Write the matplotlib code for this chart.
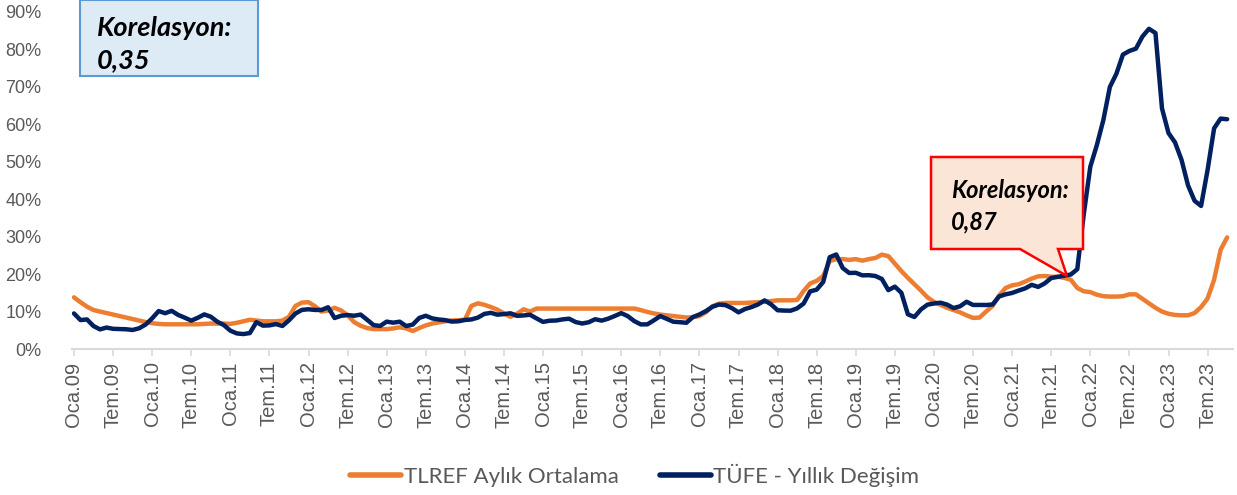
import numpy as np
import matplotlib.pyplot as plt
from matplotlib.patches import Rectangle, Polygon

# monthly values, Oca.09 .. Eki.23
tufe = [9.50, 7.73, 7.89, 6.13, 5.24, 5.73, 5.39, 5.33, 5.27, 5.08, 5.53, 6.53,
        8.19, 10.13, 9.56, 10.19, 9.10, 8.37, 7.58, 8.33, 9.24, 8.62, 7.29, 6.40,
        4.90, 4.16, 3.99, 4.26, 7.17, 6.24, 6.31, 6.65, 6.15, 7.66, 9.48, 10.45,
        10.61, 10.43, 10.43, 11.14, 8.28, 8.87, 9.07, 8.88, 9.19, 7.80, 6.37, 6.16,
        7.31, 7.03, 7.29, 6.13, 6.51, 8.30, 8.88, 8.17, 7.88, 7.71, 7.32, 7.40,
        7.75, 7.89, 8.39, 9.38, 9.66, 9.16, 9.32, 9.54, 8.86, 8.96, 9.15, 8.17,
        7.24, 7.55, 7.61, 7.91, 8.09, 7.20, 6.81, 7.14, 7.95, 7.58, 8.10, 8.81,
        9.58, 8.78, 7.46, 6.57, 6.58, 7.64, 8.79, 8.05, 7.28, 7.16, 7.00, 8.53,
        9.22, 10.13, 11.29, 11.87, 11.72, 10.90, 9.79, 10.68, 11.20, 11.90, 12.98, 11.92,
        10.35, 10.26, 10.23, 10.85, 12.15, 15.39, 15.85, 17.90, 24.52, 25.24, 21.62, 20.30,
        20.35, 19.67, 19.71, 19.50, 18.71, 15.72, 16.65, 15.01, 9.26, 8.55, 10.56, 11.84,
        12.15, 12.37, 11.86, 10.94, 11.39, 12.62, 11.76, 11.77, 11.75, 11.89, 14.03, 14.60,
        14.97, 15.61, 16.19, 17.14, 16.59, 17.53, 18.95, 19.25, 19.58, 19.89, 21.31, 36.08,
        48.69, 54.44, 61.14, 69.97, 73.50, 78.62, 79.60, 80.21, 83.45, 85.51, 84.39, 64.27,
        57.68, 55.18, 50.51, 43.68, 39.59, 38.21, 47.83, 58.94, 61.53, 61.36]

tlref = [13.8, 12.5, 11.3, 10.4, 10.0, 9.6, 9.2, 8.8, 8.4, 8.0, 7.6, 7.2,
         6.9, 6.7, 6.6, 6.6, 6.6, 6.6, 6.6, 6.6, 6.7, 6.8, 6.8, 6.8,
         6.7, 7.0, 7.4, 7.8, 7.6, 7.4, 7.4, 7.4, 7.6, 8.6, 11.5, 12.4,
         12.5, 11.4, 10.0, 10.3, 11.0, 10.3, 9.0, 7.2, 6.2, 5.6, 5.3, 5.3,
         5.3, 5.5, 5.8, 5.5, 4.8, 5.6, 6.3, 6.8, 7.1, 7.4, 7.6, 7.7,
         7.8, 11.5, 12.2, 11.8, 11.2, 10.5, 9.5, 8.6, 9.4, 10.6, 10.0, 10.8,
         10.8, 10.8, 10.8, 10.8, 10.8, 10.8, 10.8, 10.8, 10.8, 10.8, 10.8, 10.8,
         10.8, 10.8, 10.8, 10.4, 9.9, 9.5, 9.2, 9.0, 8.8, 8.6, 8.4, 8.5,
         8.8, 9.8, 11.4, 12.1, 12.3, 12.3, 12.3, 12.3, 12.4, 12.5, 12.6, 12.8,
         13.0, 13.0, 13.0, 13.1, 15.5, 17.5, 18.2, 19.5, 23.5, 24.0, 24.0, 23.8,
         24.0, 23.6, 24.0, 24.3, 25.2, 24.8, 22.8, 20.8, 19.0, 17.3, 15.6, 13.8,
         12.6, 11.8, 11.0, 10.4, 9.8, 9.0, 8.3, 8.4, 10.0, 11.5, 14.3, 16.3,
         17.0, 17.3, 18.0, 18.8, 19.4, 19.5, 19.3, 19.3, 19.0, 18.5, 16.3, 15.4,
         15.2, 14.5, 14.1, 14.0, 14.0, 14.1, 14.6, 14.6, 13.4, 12.2, 11.0, 10.0,
         9.4, 9.1, 9.0, 9.0, 9.6, 11.2, 13.5, 18.5, 26.5, 29.8]

years = list(range(9, 24))
tick_labels = []
for y in years:
    tick_labels += ["Oca.%02d" % y, "Tem.%02d" % y]

W, H = 1237, 495
fig = plt.figure(figsize=(W / 100, H / 100), dpi=100)
ax = fig.add_axes([72 / W, 1 - 349 / H, (1233 - 72) / W, (349 - 12) / H])

x = np.arange(len(tufe))
ax.plot(x, tlref, color="#ED7D31", lw=3.2, solid_capstyle="round", label="TLREF Aylık Ortalama")
ax.plot(x, tufe, color="#002060", lw=3.2, solid_capstyle="round", label="TÜFE - Yıllık Değişim")

ax.set_xlim(-0.3, 177.9)
ax.set_ylim(0, 90)
ax.set_yticks(np.arange(0, 91, 10))
ax.set_yticklabels(["%d%%" % v for v in range(0, 91, 10)], fontsize=13,
                   color="#595959", family="Liberation Sans")
ax.set_xticks(np.arange(0, len(tufe), 6))
ax.set_xticklabels(tick_labels, rotation=90, fontsize=14.5, color="#595959",
                   family="Liberation Sans")
ax.tick_params(axis="y", length=0, pad=22)
ax.tick_params(axis="x", length=5, color="#D9D9D9", width=1.2, pad=4)
for s in ["top", "right", "left"]:
    ax.spines[s].set_visible(False)
ax.spines["bottom"].set_color("#D9D9D9")
ax.spines["bottom"].set_linewidth(1.5)


def px(a, b):
    return (a / W, 1 - b / H)


# correlation boxes
x0, y0 = px(80, 76)
fig.patches.append(Rectangle((x0, y0), 178 / W, 76 / H, transform=fig.transFigure,
                             facecolor="#DDEBF7", edgecolor="#5B9BD5", lw=1.5, zorder=5))
fig.text(*px(97, 28), "Korelasyon:", fontsize=19.5, fontweight="bold", style="italic",
         family="Lato", va="center", zorder=6)
fig.text(*px(97, 60), "0,35", fontsize=19.5, fontweight="bold", style="italic",
         family="Lato", va="center", zorder=6)

call = [px(931, 157), px(1083, 157), px(1083, 249), px(1058, 249), px(1067, 276),
        px(1020, 249), px(931, 249)]
fig.patches.append(Polygon(call, closed=True, transform=fig.transFigure,
                           facecolor="#FBE5D6", edgecolor="#FF0000", lw=1.8, zorder=5))
fig.text(*px(951, 191), "Korelasyon:", fontsize=17, fontweight="bold", style="italic",
         family="Lato", va="center", zorder=6)
fig.text(*px(951, 222), "0,87", fontsize=17, fontweight="bold", style="italic",
         family="Lato", va="center", zorder=6)

leg = fig.legend(loc="center", bbox_to_anchor=(0.513, 1 - 475 / H), ncol=2, frameon=False,
                 handlelength=2.3, handletextpad=0.12, columnspacing=1.85,
                 prop={"family": "Lato", "size": 16})
for t in leg.get_texts():
    t.set_color("#595959")
for l in leg.get_lines():
    l.set_linewidth(4)

fig.savefig("out.png", dpi=100)
